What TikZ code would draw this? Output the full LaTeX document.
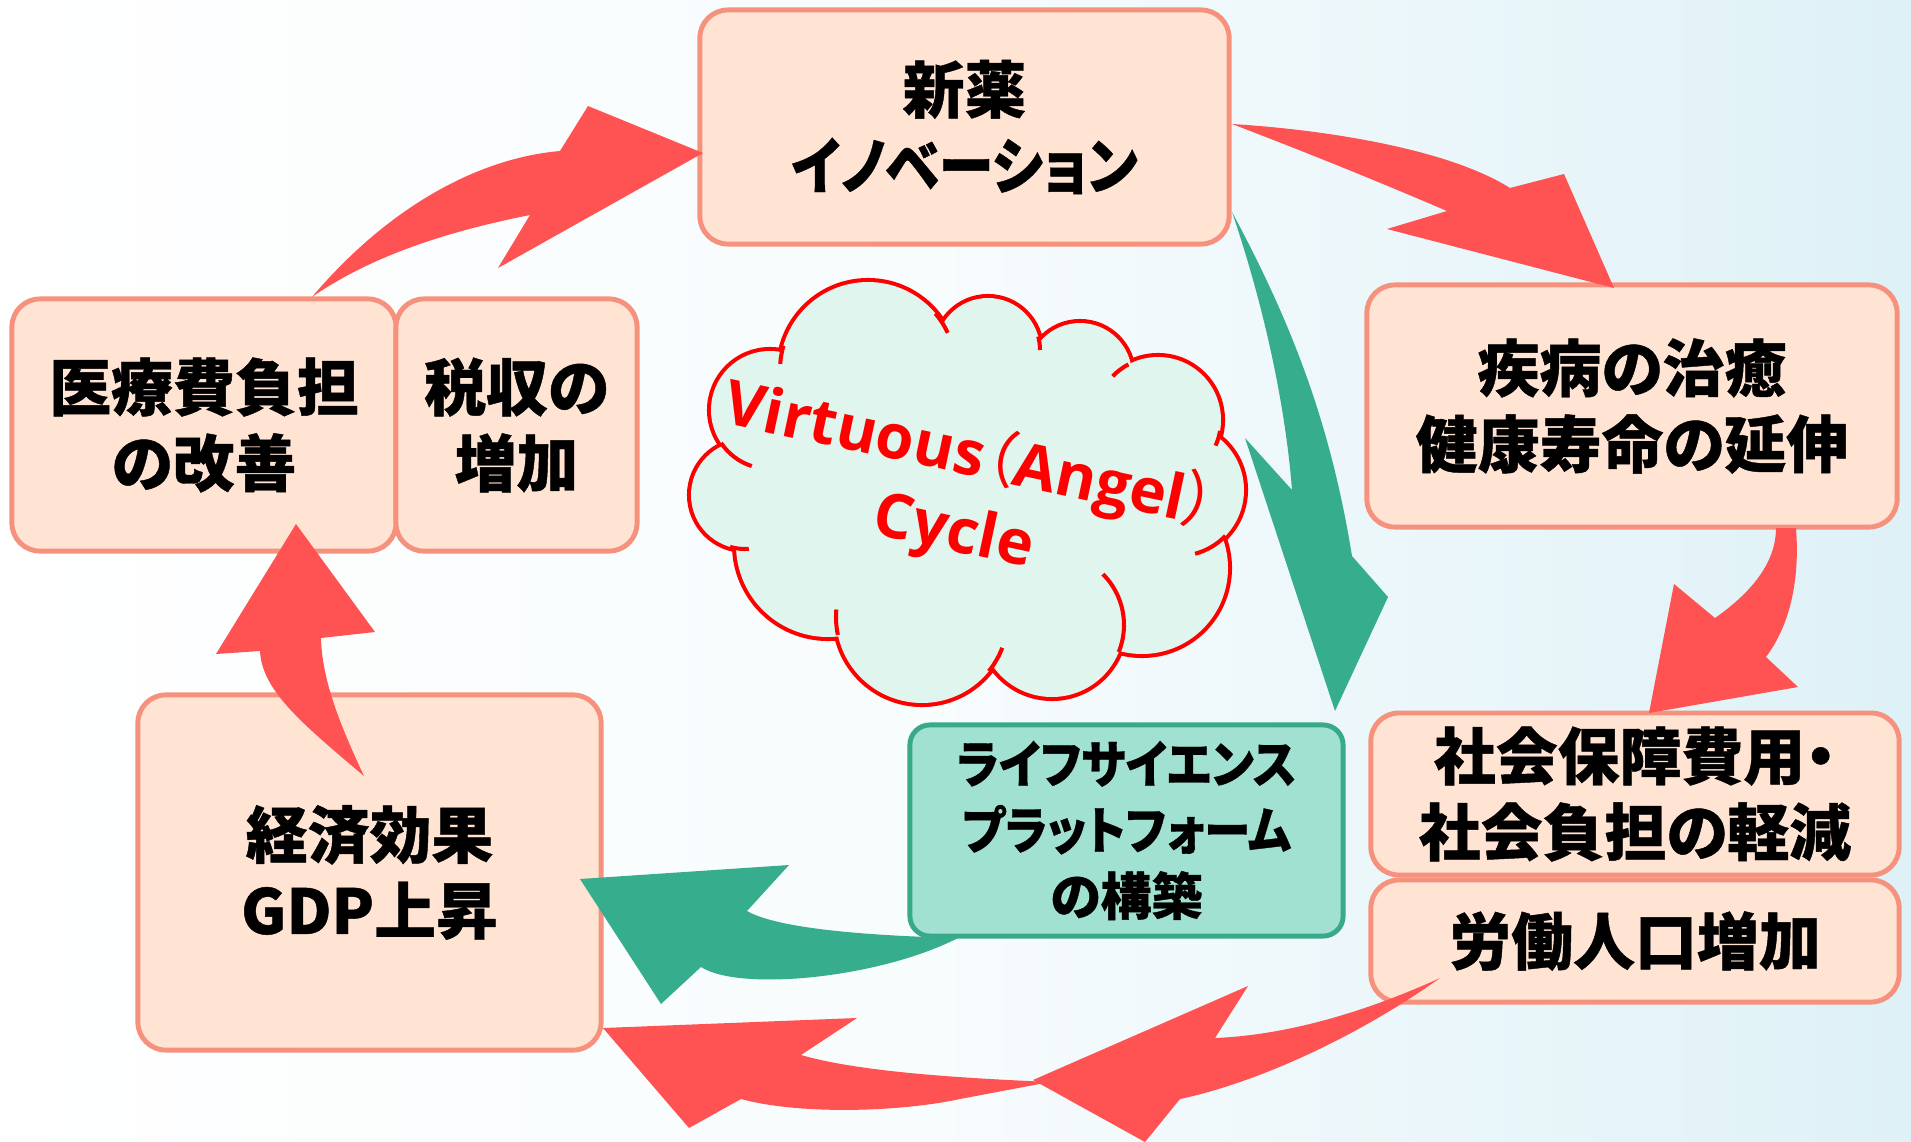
\documentclass[tikz,border=0pt]{standalone}
\usepackage{graphicx}
\usepackage{fontspec}
\newfontfamily\jp{Noto Sans CJK JP}[RawFeature=+palt, BoldFeatures={FakeBold=0.7}]
\newfontfamily\cl{Open Sans}
\definecolor{bgblue}{RGB}{222,241,247}
\definecolor{boxfill}{RGB}{255,228,212}
\definecolor{boxline}{RGB}{245,145,125}
\definecolor{gfill}{RGB}{160,225,210}
\definecolor{gline}{RGB}{56,170,138}
\definecolor{arrred}{RGB}{255,82,82}
\definecolor{arrgreen}{RGB}{54,173,140}
\definecolor{cloudfill}{RGB}{224,245,238}
\definecolor{cloudred}{RGB}{255,0,0}
\newcommand\bigjp{\jp\bfseries\fontsize{17.6}{21.6}\selectfont}
\newcommand\smalljp{\jp\bfseries\fontsize{14.5}{18.8}\selectfont}
\newcommand\narrow[2]{\scalebox{#1}[1]{#2}}
\tikzset{
  pbox/.style={draw=boxline, fill=boxfill, line width=1.4pt, rounded corners=0.28cm, align=center, font=\bigjp, inner sep=0pt},
  gbox/.style={draw=gline, fill=gfill, line width=1.4pt, rounded corners=0.2cm, align=center, font=\smalljp, inner sep=0pt},
  redarrow/.style={fill=arrred},
  greenarrow/.style={fill=arrgreen},
  cloudline/.style={draw=cloudred, line width=1.15pt},
  cloudtext/.style={text=cloudred, font=\cl\bfseries\fontsize{17.6}{22}\selectfont, inner sep=0pt, align=center}
}
\begin{document}
\begin{tikzpicture}[x=0.01cm,y=-0.01cm]
\useasboundingbox (0,0) rectangle (1911,1142);
\shade[left color=white, right color=bgblue, middle color=white!75!bgblue] (0,0) rectangle (1911,1142);

% cloud: union of circles
\draw[cloudred, line width=2.3pt]
  (868,370) circle[radius=88] (988,350) circle[radius=52] (1080,375) circle[radius=52]
  (1158,420) circle[radius=63] (1178,490) circle[radius=66] (1142,568) circle[radius=86]
  (1052,625) circle[radius=72] (922,617) circle[radius=86] (828,545) circle[radius=92]
  (745,495) circle[radius=54] (770,410) circle[radius=59];
\fill[cloudfill]
  (868,370) circle[radius=88] (988,350) circle[radius=52] (1080,375) circle[radius=52]
  (1158,420) circle[radius=63] (1178,490) circle[radius=66] (1142,568) circle[radius=86]
  (1052,625) circle[radius=72] (922,617) circle[radius=86] (828,545) circle[radius=92]
  (745,495) circle[radius=54] (770,410) circle[radius=59];
\fill[cloudfill] (960,480) ellipse[x radius=200, y radius=150];
% inner stubs of the cloud
\draw[cloudline] (868,370) ++(-40:88) arc[start angle=-40, end angle=-25, radius=88];
\draw[cloudline] (988,350) ++(-15:52) arc[start angle=-15, end angle=0, radius=52];
\draw[cloudline] (1158,420) ++(-136:63) arc[start angle=-136, end angle=-118, radius=63];
\draw[cloudline] (1158,420) ++(10:63) arc[start angle=10, end angle=24, radius=63];
\draw[cloudline] (1178,490) ++(44:66) arc[start angle=44, end angle=75, radius=66];
\draw[cloudline] (1052,625) ++(-45:72) arc[start angle=-45, end angle=22, radius=72];
\draw[cloudline] (922,617) ++(21:86) arc[start angle=21, end angle=39, radius=86];
\draw[cloudline] (922,617) ++(168:86) arc[start angle=168, end angle=185, radius=86];
\draw[cloudline] (745,495) ++(86:54) arc[start angle=86, end angle=106, radius=54];
\draw[cloudline] (770,410) ++(108:59) arc[start angle=108, end angle=146, radius=59];
\draw[cloudline] (868,370) ++(184:88) arc[start angle=184, end angle=196, radius=88];
\node[cloudtext, rotate=-12] (vc) at (962,494) {Virtuous{\jp\mdseries （}Angel{\jp\mdseries ）}\\Cycle};

% boxes
\node[pbox, minimum width=5.29cm, minimum height=2.34cm] (shin) at (964.5,127) {新薬\\\narrow{0.89}{イノベーション}};
\node[pbox, minimum width=3.84cm, minimum height=2.52cm] (iryo) at (204,425) {医療費負担\\の改善};
\node[pbox, minimum width=2.41cm, minimum height=2.52cm] (zei) at (516.5,425) {税収の\\増加};
\node[pbox, minimum width=5.30cm, minimum height=2.42cm] (shippei) at (1632,406) {疾病の治癒\\健康寿命の延伸};
\node[pbox, minimum width=5.28cm, minimum height=1.62cm] (shakai) at (1635,794) {社会保障費用・\\社会負担の軽減};
\node[pbox, minimum width=5.28cm, minimum height=1.22cm] (roudou) at (1635,941) {労働人口増加};
\node[pbox, minimum width=4.63cm, minimum height=3.55cm] (keizai) at (369.5,872.5) {経済効果\\GDP上昇};
\node[gbox, minimum width=4.33cm, minimum height=2.11cm] (life) at (1126.5,830.5) {\narrow{0.91}{ライフサイエンス}\\\narrow{0.91}{プラットフォーム}\\の構築};

% arrows
\fill[redarrow] (312,297) .. controls (390,205) and (480,158) .. (560,151) -- (588,106) -- (703,153) -- (498,268) -- (530,215) .. controls (465,228) and (380,250) .. cycle;
\fill[redarrow] (1232,124) .. controls (1330,130) and (1450,150) .. (1510,188) -- (1564,174) -- (1614,288) -- (1387,229) -- (1447,211) .. controls (1370,178) and (1300,150) .. cycle;
\fill[redarrow] (1776,528) -- (1796,528) .. controls (1800,580) and (1790,625) .. (1766,657) -- (1798,687) -- (1649,713) -- (1674,584) -- (1715,618) .. controls (1755,590) and (1776,560) .. cycle;
\fill[redarrow] (1050,1082) .. controls (960,1078) and (860,1072) .. (801,1055) -- (857,1018) -- (603,1028) -- (689,1128) -- (741,1099) .. controls (800,1115) and (900,1112) .. (960,1099) -- cycle;
\fill[redarrow] (1440,978) .. controls (1370,1010) and (1290,1035) .. (1215,1038) -- (1248,986) -- (1033,1080) -- (1145,1142) -- (1180,1099) .. controls (1260,1082) and (1360,1035) .. cycle;
\fill[redarrow] (364,776) .. controls (300,722) and (262,690) .. (260,651) -- (216,654) -- (296,524) -- (375,632) -- (321,638) .. controls (322,680) and (340,725) .. cycle;
\fill[greenarrow] (1232,212) .. controls (1262,300) and (1285,400) .. (1292,490) -- (1245,438) -- (1335,711) -- (1388,597) -- (1352,556) .. controls (1330,420) and (1290,320) .. cycle;
\fill[greenarrow] (958,938) .. controls (880,936) and (780,930) .. (747,911) -- (789,865) -- (580,879) -- (661,1004) -- (701,967) .. controls (740,992) and (880,978) .. cycle;
\end{tikzpicture}
\end{document}
